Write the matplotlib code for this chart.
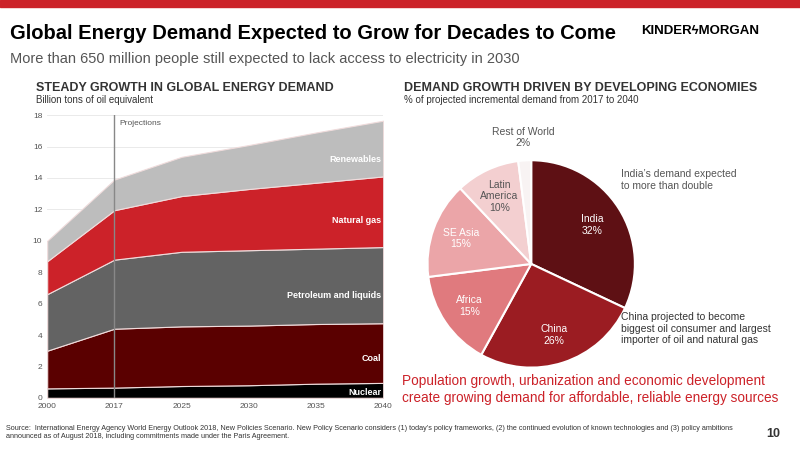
import matplotlib
matplotlib.use("Agg")
import matplotlib.pyplot as plt
import numpy as np

plt.rcParams["font.family"] = ["Liberation Sans", "DejaVu Sans"]

# Left chart: billion tons of oil equivalent (stacked)
years = ["2000", "2017", "2025", "2030", "2035", "2040"]
nuclear = [0.6, 0.65, 0.75, 0.8, 0.9, 0.95]
coal = [2.4, 3.75, 3.8, 3.8, 3.8, 3.8]
petroleum = [3.6, 4.4, 4.75, 4.8, 4.8, 4.85]
natural_gas = [2.1, 3.15, 3.55, 3.9, 4.2, 4.5]
renewables = [1.3, 1.95, 2.5, 2.8, 3.2, 3.55]
series_names = ["Nuclear", "Coal", "Petroleum and liquids", "Natural gas", "Renewables"]
series_colors = ["#000000", "#5a0000", "#636363", "#cc2229", "#bdbdbd"]

# Right chart: share of incremental demand
regions = ["India", "China", "Africa", "SE Asia", "Latin\nAmerica", "Rest of World"]
shares = [32, 26, 15, 15, 10, 2]
pie_colors = ["#5e1014", "#9b1c22", "#e07a7e", "#eba5a8", "#f3cfd0", "#f8f3f3"]

fig = plt.figure(figsize=(8, 4.5), dpi=100)
fig.patches.append(plt.Rectangle((0, 0.985), 1, 0.015, transform=fig.transFigure, color="#cc2229"))
fig.text(0.012, 0.925, "Global Energy Demand Expected to Grow for Decades to Come",
         fontsize=14.5, fontweight="bold", va="center")
fig.text(0.012, 0.868, "More than 650 million people still expected to lack access to electricity in 2030",
         fontsize=10.5, color="#555555", va="center")
fig.text(0.875, 0.93, "KINDER\u03dfMORGAN", fontsize=9.5, fontweight="bold", va="center", ha="center")
fig.text(0.045, 0.805, "STEADY GROWTH IN GLOBAL ENERGY DEMAND", fontsize=9, fontweight="bold",
         color="#333333", va="center")
fig.text(0.045, 0.777, "Billion tons of oil equivalent", fontsize=7, color="#333333", va="center")
fig.text(0.505, 0.805, "DEMAND GROWTH DRIVEN BY DEVELOPING ECONOMIES", fontsize=9, fontweight="bold",
         color="#333333", va="center")
fig.text(0.505, 0.777, "% of projected incremental demand from 2017 to 2040", fontsize=7,
         color="#333333", va="center")

# Stacked area
ax = fig.add_axes([0.059, 0.116, 0.42, 0.628])
x = np.arange(len(years))
ax.stackplot(x, nuclear, coal, petroleum, natural_gas, renewables, colors=series_colors,
             edgecolor="#f0dcdc", linewidth=0.8)
ax.set_xlim(0, len(years) - 1)
ax.set_ylim(0, 18)
ax.set_xticks(x)
ax.set_xticklabels(years)
ax.set_yticks(range(0, 19, 2))
ax.tick_params(labelsize=6, colors="#555555", length=0)
ax.grid(axis="y", color="#e6e6e6", linewidth=0.6)
ax.set_axisbelow(True)
for s in ax.spines.values():
    s.set_visible(False)
ax.axvline(1, color="#888888", linewidth=1)
ax.text(1.07, 17.5, "Projections", fontsize=6, color="#555555", va="center")
label_y = [0.35, 2.5, 6.5, 11.3, 15.2]
for name, yy in zip(series_names, label_y):
    ax.text(4.97, yy, name, fontsize=6.5, color="white", fontweight="bold", ha="right", va="center")

# Pie
pax = fig.add_axes([0.502, 0.125, 0.324, 0.577])
wedges, _ = pax.pie(shares, colors=pie_colors, startangle=90, counterclock=False,
                    wedgeprops=dict(edgecolor="white", linewidth=1.5))
pax.set_aspect("equal")
label_r = [0.7, 0.72, 0.72, 0.72, 0.72, 1.22]
label_c = ["white", "white", "white", "white", "#555555", "#555555"]
for w, name, val, r, c in zip(wedges, regions, shares, label_r, label_c):
    ang = np.deg2rad((w.theta1 + w.theta2) / 2)
    pax.text(r * np.cos(ang), r * np.sin(ang), f"{name}\n{val}%", ha="center", va="center",
             fontsize=7.5, color=c)

fig.text(0.776, 0.6, "India\u2019s demand expected\nto more than double", fontsize=7.5,
         color="#555555", va="center")
fig.text(0.776, 0.27, "China projected to become\nbiggest oil consumer and largest\nimporter of oil and natural gas",
         fontsize=7.5, color="#333333", va="center")
fig.text(0.503, 0.135, "Population growth, urbanization and economic development\n"
         "create growing demand for affordable, reliable energy sources",
         fontsize=9.8, color="#cc2229", va="center", linespacing=1.3)

fig.text(0.008, 0.04, "Source:  International Energy Agency World Energy Outlook 2018, New Policies Scenario. New Policy Scenario "
         "considers (1) today\u2019s policy frameworks, (2) the continued evolution of known technologies and (3) policy ambitions\n"
         "announced as of August 2018, including commitments made under the Paris Agreement.",
         fontsize=5.2, color="#333333", va="center")
fig.text(0.975, 0.035, "10", fontsize=9, fontweight="bold", color="#333333", ha="right", va="center")

fig.savefig("out.png", dpi=100)
